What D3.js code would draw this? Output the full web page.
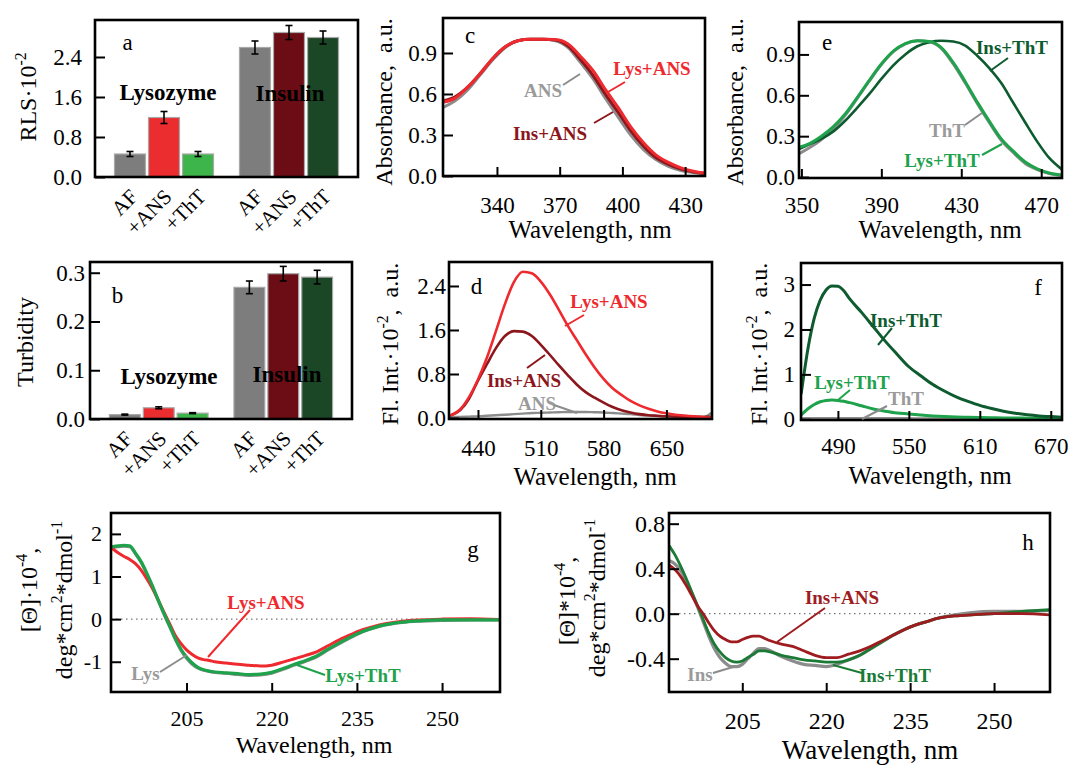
<!DOCTYPE html>
<html><head><meta charset="utf-8">
<script src="https://cdn.jsdelivr.net/npm/d3@7"></script>
<style>
body{margin:0;background:#fff;}
text{white-space:pre;}
</style></head><body>
<svg id="chart" width="1070" height="766" xmlns="http://www.w3.org/2000/svg"></svg>
<script>
// ---------------- DATA ----------------
const barProteins = ["Lysozyme", "Insulin"];
const barTreatments = ["AF", "+ANS", "+ThT"];
const rlsLys = [0.46, 1.19, 0.46];
const rlsLysErr = [0.05, 0.12, 0.05];
const rlsIns = [2.59, 2.89, 2.79];
const rlsInsErr = [0.13, 0.14, 0.13];
const turbLys = [0.009, 0.023, 0.012];
const turbLysErr = [0.001, 0.002, 0.001];
const turbIns = [0.270, 0.298, 0.291];
const turbInsErr = [0.013, 0.015, 0.014];

const rlsTicks = [0, 0.8, 1.6, 2.4];
const turbTicks = [0, 0.1, 0.2, 0.3];

// panel c: absorbance of ANS
const cWave = [314,320,326,332,338,344,350,356,362,368,374,380,386,392,398,404,410,416,422,428,434,440];
const cANS    = [0.50,0.55,0.63,0.74,0.85,0.94,0.99,1.00,1.00,0.99,0.94,0.83,0.71,0.565,0.43,0.30,0.195,0.12,0.07,0.04,0.025,0.015];
const cInsANS = [0.55,0.58,0.65,0.75,0.86,0.945,0.99,1.00,1.00,0.995,0.95,0.85,0.735,0.595,0.465,0.33,0.22,0.135,0.085,0.05,0.03,0.018];
const cLysANS = [0.54,0.57,0.65,0.75,0.86,0.945,0.99,1.00,1.00,0.998,0.965,0.875,0.77,0.63,0.50,0.36,0.245,0.155,0.10,0.06,0.035,0.02];
const cXTicks = [340, 370, 400, 430];
const cYTicks = [0, 0.3, 0.6, 0.9];

// panel d: fluorescence of ANS
const dWave = [410,420,430,440,450,460,470,480,490,500,510,520,530,540,550,560,570,580,590,600,610,620,630,640,650,660,670,680,690,700];
const dANS    = [0.02,0.02,0.025,0.03,0.04,0.05,0.06,0.07,0.08,0.09,0.095,0.10,0.105,0.11,0.11,0.11,0.105,0.10,0.09,0.08,0.07,0.055,0.045,0.035,0.025,0.02,0.015,0.01,0.005,0.09];
const dInsANS = [0.05,0.14,0.35,0.68,0.98,1.27,1.49,1.58,1.57,1.49,1.33,1.15,0.96,0.78,0.61,0.47,0.37,0.28,0.20,0.14,0.10,0.07,0.05,0.04,0.03,0.025,0.02,0.02,0.02,0.02];
const dLysANS = [0.05,0.155,0.38,0.70,1.10,1.58,2.07,2.47,2.66,2.63,2.48,2.25,1.97,1.68,1.42,1.16,0.92,0.71,0.54,0.42,0.31,0.23,0.17,0.12,0.085,0.06,0.045,0.03,0.015,0.006];
const dXTicks = [440, 510, 580, 650];
const dYTicks = [0, 0.8, 1.6, 2.4];

// panel e: absorbance of ThT
const eWave = [348,354,360,366,372,378,384,390,396,402,408,414,420,426,432,438,444,450,456,462,468,474,480];
const eThT    = [0.165,0.215,0.275,0.355,0.455,0.58,0.705,0.825,0.92,0.978,1.0,0.993,0.945,0.83,0.69,0.54,0.40,0.27,0.18,0.10,0.055,0.025,0.012];
const eLysThT = [0.215,0.245,0.30,0.37,0.465,0.585,0.71,0.83,0.925,0.98,1.0,0.995,0.95,0.84,0.70,0.55,0.41,0.28,0.19,0.11,0.06,0.03,0.015];
const eInsThT = [0.20,0.24,0.28,0.335,0.415,0.51,0.61,0.72,0.82,0.90,0.96,0.99,1.0,0.995,0.965,0.89,0.80,0.69,0.545,0.40,0.26,0.14,0.06];
const eXTicks = [350, 390, 430, 470];
const eYTicks = [0, 0.3, 0.6, 0.9];

// panel f: fluorescence of ThT
const fWave = [459,465,470,475,480,485,490,495,500,510,520,530,540,550,560,570,580,590,600,610,620,630,640,650,660,670,680];
const fThT    = [0.02,0.02,0.02,0.02,0.02,0.02,0.02,0.02,0.02,0.02,0.015,0.015,0.015,0.015,0.01,0.01,0.01,0.01,0.01,0.01,0.01,0.01,0.01,0.01,0.01,0.01,0.01];
const fLysThT = [0.10,0.24,0.33,0.39,0.42,0.43,0.42,0.40,0.37,0.30,0.23,0.18,0.14,0.12,0.095,0.075,0.06,0.05,0.045,0.04,0.035,0.03,0.03,0.025,0.02,0.02,0.02];
const fInsThT = [0.58,1.62,2.25,2.65,2.88,2.97,2.96,2.86,2.68,2.38,2.06,1.74,1.45,1.17,0.97,0.78,0.63,0.50,0.40,0.31,0.24,0.18,0.135,0.10,0.075,0.06,0.045];
const fXTicks = [490, 550, 610, 670];
const fYTicks = [0, 1, 2, 3];

// panels g, h: circular dichroism
const cdWave = [192,193,194,195,196,197,198,199,200,201,202,203,204,205,206,207,208,209,210,212,214,216,218,220,222,224,226,228,230,232,234,236,238,240,243,246,250,255,260];
const gLys    = [1.68,1.70,1.71,1.70,1.53,1.33,1.06,0.76,0.44,0.12,-0.17,-0.47,-0.73,-0.92,-1.06,-1.15,-1.20,-1.23,-1.25,-1.27,-1.30,-1.32,-1.31,-1.27,-1.18,-1.08,-0.99,-0.88,-0.72,-0.57,-0.43,-0.30,-0.21,-0.14,-0.08,-0.05,-0.03,-0.02,-0.02];
const gLysANS = [1.65,1.55,1.47,1.40,1.30,1.15,0.95,0.72,0.45,0.17,-0.10,-0.38,-0.57,-0.72,-0.83,-0.91,-0.95,-0.97,-1.00,-1.03,-1.06,-1.08,-1.10,-1.08,-1.01,-0.93,-0.85,-0.76,-0.62,-0.48,-0.36,-0.25,-0.17,-0.11,-0.05,-0.02,0.0,0.01,-0.01];
const gLysThT = [1.70,1.72,1.73,1.72,1.55,1.35,1.08,0.78,0.45,0.14,-0.15,-0.45,-0.70,-0.89,-1.03,-1.13,-1.19,-1.22,-1.24,-1.26,-1.28,-1.30,-1.29,-1.25,-1.16,-1.06,-0.97,-0.86,-0.70,-0.55,-0.41,-0.29,-0.20,-0.13,-0.07,-0.04,-0.02,-0.02,-0.02];
const hIns    = [0.47,0.44,0.38,0.29,0.18,0.06,-0.07,-0.20,-0.31,-0.39,-0.44,-0.47,-0.47,-0.45,-0.40,-0.35,-0.31,-0.31,-0.33,-0.38,-0.42,-0.45,-0.46,-0.47,-0.45,-0.41,-0.37,-0.31,-0.25,-0.19,-0.14,-0.10,-0.07,-0.04,-0.01,0.01,0.02,0.02,0.03];
const hInsANS = [0.43,0.39,0.33,0.25,0.16,0.07,0.0,-0.08,-0.15,-0.20,-0.23,-0.25,-0.25,-0.23,-0.21,-0.20,-0.20,-0.22,-0.24,-0.27,-0.29,-0.33,-0.37,-0.39,-0.39,-0.36,-0.33,-0.29,-0.24,-0.19,-0.14,-0.10,-0.07,-0.04,-0.02,-0.01,0.0,0.0,-0.01];
const hInsThT = [0.60,0.52,0.42,0.31,0.19,0.07,-0.05,-0.17,-0.27,-0.34,-0.39,-0.42,-0.43,-0.42,-0.39,-0.36,-0.33,-0.33,-0.34,-0.37,-0.39,-0.41,-0.42,-0.43,-0.43,-0.41,-0.37,-0.31,-0.25,-0.19,-0.14,-0.10,-0.07,-0.04,-0.02,-0.01,0.0,0.02,0.035];
const cdXTicks = [205, 220, 235, 250];
const gYTicks = [-1, 0, 1, 2];
const hYTicks = [-0.4, 0, 0.4, 0.8];

// ---------------- STYLE ----------------
const F = "'Liberation Serif', 'Times New Roman', serif";
const C = {
  gray: "#8c8c8c", grayText: "#9a9a9a",
  red: "#ee2a2f", darkRed: "#8c161b", hRed: "#9e1c1f",
  green: "#1fa24c", darkGreen: "#0d5b2e", hGreen: "#1b7a35",
  barGray: "#7d7d7d", barRed: "#ec2d30", barGreen: "#3db54a",
  barDarkRed: "#6c0d15", barDarkGreen: "#1c4726"
};

const svg = d3.select("#chart");

function txt(x, y, s, o = {}) {
  const t = svg.append("text").attr("x", x).attr("y", y).text(s)
    .attr("font-family", F).attr("font-size", o.size || 22)
    .attr("fill", o.color || "#000").attr("text-anchor", o.anchor || "middle")
    .attr("font-weight", o.bold ? "bold" : "normal");
  if (o.rotate) t.attr("transform", `rotate(${o.rotate},${x},${y})`);
  return t;
}
function rich(x, y, parts, o = {}) {
  const size = o.size || 24;
  const t = svg.append("text").attr("x", x).attr("y", y)
    .attr("font-family", F).attr("font-size", size).attr("fill", "#000")
    .attr("text-anchor", "middle");
  if (o.rotate) t.attr("transform", `rotate(${o.rotate},${x},${y})`);
  let shift = 0;
  parts.forEach(([s, sup]) => {
    const dy = sup ? -size * 0.42 : 0;
    const ts = t.append("tspan").text(s).attr("dy", dy - shift);
    if (sup) ts.attr("font-size", size * 0.66);
    shift = dy;
  });
  return t;
}
function leader(x1, y1, x2, y2, color, w = 2) {
  svg.append("line").attr("x1", x1).attr("y1", y1).attr("x2", x2).attr("y2", y2)
    .attr("stroke", color).attr("stroke-width", w);
}
function frame(R) {
  svg.append("rect").attr("x", R.l).attr("y", R.t).attr("width", R.r - R.l).attr("height", R.b - R.t)
    .attr("fill", "none").attr("stroke", "#000").attr("stroke-width", 2.6);
}
function styleAxis(g, fs) {
  g.select(".domain").remove();
  g.selectAll(".tick line").attr("stroke", "#000").attr("stroke-width", 2);
  g.selectAll(".tick text").attr("font-size", fs).attr("font-family", F).attr("fill", "#000");
}
function yAxis(y, R, ticks, fmt, pad, fs, len = 10) {
  const g = svg.append("g").attr("transform", `translate(${R.l},0)`)
    .call(d3.axisLeft(y).tickValues(ticks).tickFormat(fmt).tickSize(-len).tickPadding(pad));
  styleAxis(g, fs);
}
function xAxis(x, R, ticks, pad, fs, len = 9) {
  const g = svg.append("g").attr("transform", `translate(0,${R.b})`)
    .call(d3.axisBottom(x).tickValues(ticks).tickFormat(d => String(d)).tickSize(-len).tickPadding(pad));
  styleAxis(g, fs);
}

// ---------------- BAR PANELS ----------------
function barPanel(P) {
  const R = P.rect;
  const x0 = d3.scaleBand().domain(barProteins).range([R.l, R.r]).paddingInner(0.208).paddingOuter(0.156);
  const x1 = d3.scaleBand().domain(barTreatments).range([0, x0.bandwidth()]).paddingInner(0.09);
  const y = d3.scaleLinear().domain(P.yDomain).range([R.b, R.t]);
  const groups = [
    { p: "Lysozyme", v: P.lys, e: P.lysErr, c: [C.barGray, C.barRed, C.barGreen] },
    { p: "Insulin", v: P.ins, e: P.insErr, c: [C.barGray, C.barDarkRed, C.barDarkGreen] }
  ];
  groups.forEach(G => {
    barTreatments.forEach((t, i) => {
      const bx = x0(G.p) + x1(t), bw = x1.bandwidth(), cx = bx + bw / 2;
      svg.append("rect").attr("x", bx).attr("y", y(G.v[i])).attr("width", bw)
        .attr("height", y(0) - y(G.v[i])).attr("fill", G.c[i])
        .attr("stroke", "#a8a8a8").attr("stroke-width", 1.2);
      const y1 = y(G.v[i] + G.e[i]), y2 = y(G.v[i] - G.e[i]);
      svg.append("line").attr("x1", cx).attr("x2", cx).attr("y1", y1).attr("y2", y2).attr("stroke", "#000").attr("stroke-width", 1.6);
      [y1, y2].forEach(yy => svg.append("line").attr("x1", cx - 3.5).attr("x2", cx + 3.5).attr("y1", yy).attr("y2", yy).attr("stroke", "#000").attr("stroke-width", 1.6));
      txt(cx + 9, R.b + 21, t, { size: 21, anchor: "end", rotate: -45 });
    });
  });
  yAxis(y, R, P.yTicks, d => d.toFixed(1), P.yPad, 23, 10);
  frame(R);
  return { x0, y };
}

barPanel({ rect: { l: 95, t: 20, r: 358, b: 177 }, yDomain: [0, 3.14], yTicks: rlsTicks, yPad: 13,
  lys: rlsLys, lysErr: rlsLysErr, ins: rlsIns, insErr: rlsInsErr });
txt(127.5, 50, "a", { size: 23 });
txt(168, 100, "Lysozyme", { size: 23, bold: true });
txt(290, 101, "Insulin", { size: 23, bold: true });
rich(36, 97, [["RLS·10", false], ["-2", true]], { size: 24, rotate: -90 });

barPanel({ rect: { l: 90, t: 262, r: 352, b: 419 }, yDomain: [0, 0.322], yTicks: turbTicks, yPad: 5,
  lys: turbLys, lysErr: turbLysErr, ins: turbIns, insErr: turbInsErr });
txt(117.5, 303, "b", { size: 23 });
txt(169, 384, "Lysozyme", { size: 23, bold: true });
txt(287, 382, "Insulin", { size: 23, bold: true });
rich(33, 342, [["Turbidity", false]], { size: 24, rotate: -90 });

// ---------------- LINE PANELS ----------------
function linePanel(P) {
  const R = P.rect;
  const x = d3.scaleLinear().domain(P.xDomain).range([R.l, R.r]);
  const y = d3.scaleLinear().domain(P.yDomain).range([R.b, R.t]);
  const id = "clip-" + P.name;
  svg.append("clipPath").attr("id", id).append("rect")
    .attr("x", R.l).attr("y", R.t).attr("width", R.r - R.l).attr("height", R.b - R.t);
  if (P.zero) {
    svg.append("line").attr("x1", R.l).attr("x2", R.r).attr("y1", y(0)).attr("y2", y(0))
      .attr("stroke", "#777").attr("stroke-width", 1.2).attr("stroke-dasharray", "1.5,3.5");
  }
  const gl = svg.append("g").attr("clip-path", `url(#${id})`);
  P.series.forEach(s => {
    const line = d3.line().x((d, i) => x(s.x[i])).y(d => y(d)).curve(d3.curveMonotoneX);
    gl.append("path").datum(s.y).attr("d", line).attr("fill", "none")
      .attr("stroke", s.color).attr("stroke-width", s.w || 3).attr("stroke-linejoin", "round").attr("stroke-linecap", "round");
  });
  yAxis(y, R, P.yTicks, P.yFmt, P.yPad, P.fs || 23, 10);
  xAxis(x, R, P.xTicks, P.xPad, P.fs || 23, 9);
  frame(R);
  return { x, y };
}

// c
linePanel({ name: "c", rect: { l: 443, t: 18, r: 705, b: 176 }, xDomain: [314.2, 439.5], yDomain: [0, 1.156],
  xTicks: cXTicks, yTicks: cYTicks, yFmt: d => d.toFixed(1), yPad: 6, xPad: 21,
  series: [
    { x: cWave, y: cANS, color: C.gray, w: 3 },
    { x: cWave, y: cInsANS, color: C.darkRed, w: 3 },
    { x: cWave, y: cLysANS, color: C.red, w: 3 }
  ] });
txt(470, 43, "c", { size: 23 });
txt(652, 75, "Lys+ANS", { size: 19, bold: true, color: C.red });
leader(625, 82, 608, 92, C.red);
txt(543, 97, "ANS", { size: 19, bold: true, color: C.grayText });
leader(563, 85, 580, 74, C.gray);
txt(550, 140, "Ins+ANS", { size: 19, bold: true, color: C.darkRed });
leader(594, 123, 613, 112, C.darkRed);
rich(590, 238, [["Wavelength, nm", false]], { size: 25 });
rich(392, 102, [["Absorbance,  a.u.", false]], { size: 24, rotate: -90 });

// d
linePanel({ name: "d", rect: { l: 449, t: 262, r: 712, b: 419 }, xDomain: [407.7, 700.8], yDomain: [-0.018, 2.836],
  xTicks: dXTicks, yTicks: dYTicks, yFmt: d => d.toFixed(1), yPad: 3, xPad: 21,
  series: [
    { x: dWave, y: dANS, color: C.gray, w: 2.4 },
    { x: dWave, y: dInsANS, color: C.darkRed, w: 2.6 },
    { x: dWave, y: dLysANS, color: C.red, w: 2.6 }
  ] });
txt(476.5, 294, "d", { size: 23 });
txt(609, 308, "Lys+ANS", { size: 19, bold: true, color: C.red });
leader(584, 315, 565, 326, C.red);
txt(524, 386.5, "Ins+ANS", { size: 19, bold: true, color: C.darkRed });
leader(527, 368, 545, 355, C.darkRed);
txt(537, 410, "ANS", { size: 19, bold: true, color: C.grayText });
leader(554, 405, 577, 413, C.gray);
rich(595, 485, [["Wavelength, nm", false]], { size: 25 });
rich(398, 344, [["Fl. Int.·10", false], ["-2", true], [",  a.u.", false]], { size: 24, rotate: -90 });

// e
linePanel({ name: "e", rect: { l: 799, t: 22, r: 1062, b: 178 }, xDomain: [348.8, 480.4], yDomain: [-0.007, 1.138],
  xTicks: eXTicks, yTicks: eYTicks, yFmt: d => d.toFixed(1), yPad: 4, xPad: 19,
  series: [
    { x: eWave, y: eThT, color: C.gray, w: 3 },
    { x: eWave, y: eInsThT, color: C.darkGreen, w: 2.6 },
    { x: eWave, y: eLysThT, color: C.green, w: 3 }
  ] });
txt(827, 50, "e", { size: 23 });
txt(1012, 54, "Ins+ThT", { size: 19, bold: true, color: C.darkGreen });
leader(1008, 58, 990, 71, C.darkGreen);
txt(947, 136.5, "ThT", { size: 19, bold: true, color: C.grayText });
leader(965, 125, 982, 113, C.gray);
txt(942, 166.5, "Lys+ThT", { size: 19, bold: true, color: C.green });
leader(982, 155, 1002, 144, C.green);
rich(940, 238, [["Wavelength, nm", false]], { size: 25 });
rich(743, 102, [["Absorbance,  a.u.", false]], { size: 24, rotate: -90 });

// f
linePanel({ name: "f", rect: { l: 801, t: 263, r: 1062, b: 420 }, xDomain: [458.8, 679.5], yDomain: [-0.016, 3.48],
  xTicks: fXTicks, yTicks: fYTicks, yFmt: d => String(d), yPad: 6, xPad: 18,
  series: [
    { x: fWave, y: fThT, color: C.gray, w: 3 },
    { x: fWave, y: fLysThT, color: C.green, w: 3 },
    { x: fWave, y: fInsThT, color: C.darkGreen, w: 3 }
  ] });
txt(1038, 295, "f", { size: 23 });
txt(906, 327, "Ins+ThT", { size: 19, bold: true, color: C.darkGreen });
leader(892, 328, 878, 345, C.darkGreen);
txt(852, 388.5, "Lys+ThT", { size: 19, bold: true, color: C.green });
leader(850, 390, 838, 400, C.green);
txt(906, 405, "ThT", { size: 19, bold: true, color: C.grayText });
leader(887, 406, 862, 419, C.gray);
rich(930, 484, [["Wavelength, nm", false]], { size: 25 });
rich(767, 344, [["Fl. Int.·10", false], ["-2", true], [",  a.u.", false]], { size: 24, rotate: -90 });

// g
linePanel({ name: "g", rect: { l: 111, t: 513, r: 500, b: 692 }, xDomain: [191.7, 260.2], yDomain: [-1.71, 2.49],
  xTicks: cdXTicks, yTicks: gYTicks, yFmt: d => String(d), yPad: 9, xPad: 18, fs: 22, zero: true,
  series: [
    { x: cdWave, y: gLys, color: C.gray, w: 3 },
    { x: cdWave, y: gLysANS, color: C.red, w: 3 },
    { x: cdWave, y: gLysThT, color: C.green, w: 3.2 }
  ] });
txt(473, 557, "g", { size: 23 });
txt(266, 608.5, "Lys+ANS", { size: 19, bold: true, color: C.red });
leader(250, 610, 208, 657, C.red);
txt(145.5, 680, "Lys", { size: 19, bold: true, color: C.grayText });
leader(160, 672, 187, 655, C.gray);
txt(363, 682, "Lys+ThT", { size: 19, bold: true, color: C.green });
leader(325, 675, 297, 665, C.green);
rich(314, 753, [["Wavelength, nm", false]], { size: 24 });
rich(37, 590, [["[Θ]·10", false], ["-4", true], [",", false]], { size: 24, rotate: -90 });
rich(72, 600, [["deg*cm", false], ["2", true], ["*dmol", false], ["-1", true]], { size: 24, rotate: -90 });

// h
linePanel({ name: "h", rect: { l: 669, t: 513, r: 1050, b: 692 }, xDomain: [191.9, 260], yDomain: [-0.696, 0.895],
  xTicks: cdXTicks, yTicks: hYTicks, yFmt: d => d.toFixed(1), yPad: 4, xPad: 20, fs: 24, zero: true,
  series: [
    { x: cdWave, y: hIns, color: C.gray, w: 3.2 },
    { x: cdWave, y: hInsThT, color: C.hGreen, w: 2.8 },
    { x: cdWave, y: hInsANS, color: C.hRed, w: 2.8 }
  ] });
txt(1028, 550, "h", { size: 23 });
txt(842, 603.5, "Ins+ANS", { size: 19, bold: true, color: C.hRed });
leader(825, 608, 777, 642, C.hRed);
txt(700, 681, "Ins", { size: 19, bold: true, color: C.grayText });
leader(713, 673, 733, 667, C.gray);
txt(895, 682, "Ins+ThT", { size: 19, bold: true, color: C.hGreen });
leader(862, 673, 833, 665, C.hGreen);
rich(870, 759, [["Wavelength, nm", false]], { size: 27 });
rich(575, 601, [["[Θ]*10", false], ["-4", true], [",", false]], { size: 24, rotate: -90 });
rich(605, 598, [["deg*cm", false], ["2", true], ["*dmol", false], ["-1", true]], { size: 24, rotate: -90 });
</script>
</body></html>
